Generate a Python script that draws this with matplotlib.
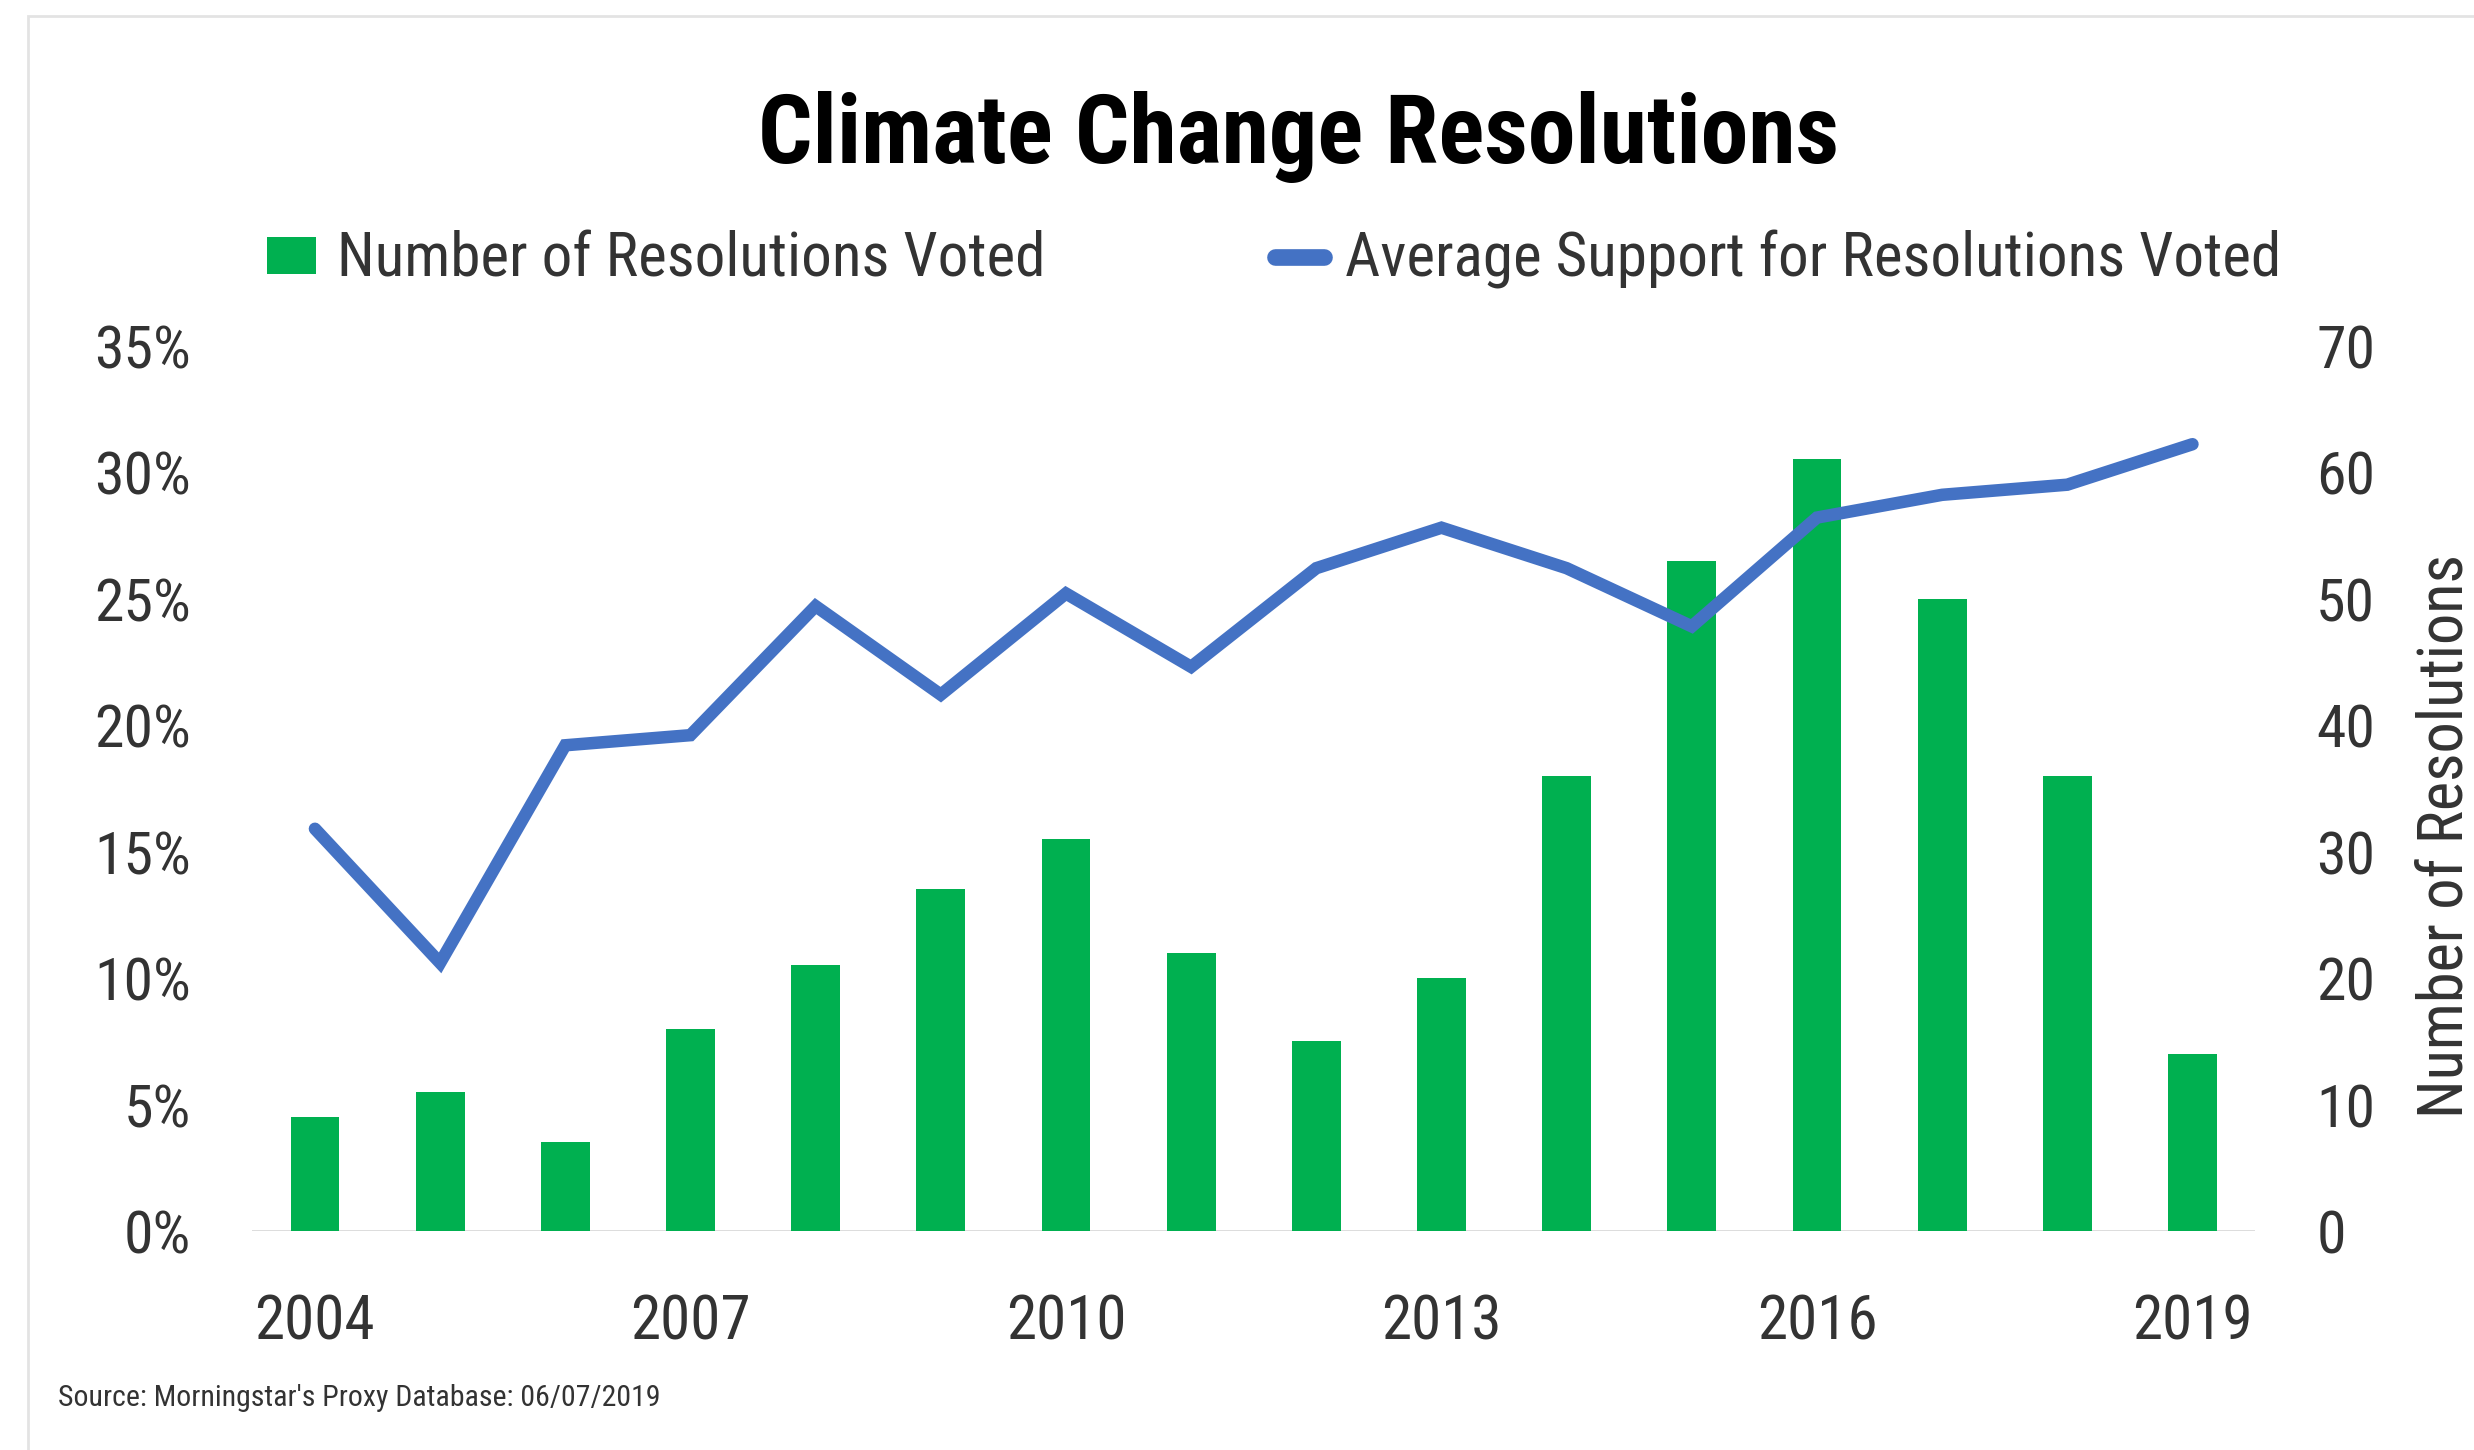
import matplotlib
matplotlib.use("Agg")
import matplotlib.pyplot as plt
from matplotlib import font_manager
from matplotlib.ticker import FuncFormatter, MultipleLocator
from matplotlib.patches import Patch, Rectangle
from matplotlib.lines import Line2D

# --- data ---
years = list(range(2004, 2020))
resolutions = [9, 11, 7, 16, 21, 27, 31, 22, 15, 20, 36, 53, 61, 50, 36, 14]
support = [15.9, 10.6, 19.2, 19.6, 24.7, 21.2, 25.2, 22.3,
           26.2, 27.8, 26.2, 23.9, 28.2, 29.1, 29.5, 31.1]
year_labels = [2004, 2007, 2010, 2013, 2016, 2019]

GREEN = "#00b050"
BLUE = "#4472c4"

# pick a narrow font if one is installed
installed = {f.name for f in font_manager.fontManager.ttflist}
narrow = "DejaVu Sans"
for cand in ["Roboto Condensed", "Liberation Sans Narrow", "Open Sans Condensed", "Roboto"]:
    if cand in installed:
        narrow = cand
        break
plt.rcParams["font.family"] = [narrow, "DejaVu Sans"]

fig = plt.figure(figsize=(24.74, 14.5), dpi=100)

# light card border like the screenshot
fig.patches.append(Rectangle((28 / 2474, -0.05), 1.2, 1 - 16 / 1450 + 0.05,
                             transform=fig.transFigure, fill=False,
                             edgecolor="#e3e3e3", linewidth=2))

ax = fig.add_axes([0.102, 0.151, 0.8095, 0.6107])
x = list(range(len(years)))

# bars -> count axis (shown on the right)
ax.bar(x, resolutions, width=0.39, color=GREEN, zorder=2)
ax.set_ylim(0, 70)
ax.set_xlim(-0.5, len(years) - 0.5)

# line -> percentage axis (shown on the left)
ax2 = ax.twinx()
ax2.plot(x, support, color=BLUE, linewidth=9, solid_capstyle="round",
         solid_joinstyle="miter")
ax2.set_ylim(0, 35)
ax2.yaxis.tick_left()
ax2.yaxis.set_major_locator(MultipleLocator(5))
ax2.yaxis.set_major_formatter(FuncFormatter(lambda v, p: f"{v:.0f}%"))

# twinx moved the count ticks left, put them back on the right
ax.yaxis.tick_right()
ax.yaxis.set_major_locator(MultipleLocator(10))
ax.set_ylabel("Number of Resolutions", fontsize=45, color="#333333", rotation=90)
ax.yaxis.set_label_coords(1.11, 0.446)

ax.set_xticks([years.index(y) for y in year_labels])
ax.set_xticklabels([str(y) for y in year_labels])

for a in (ax, ax2):
    for s in a.spines.values():
        s.set_visible(False)
    a.tick_params(length=0, labelsize=43, labelcolor="#333333")
ax.tick_params(axis="x", pad=45, labelsize=44)
ax.tick_params(axis="y", pad=44)
ax2.tick_params(axis="y", pad=44)
ax.axhline(0, color="#d9d9d9", linewidth=2, zorder=1)

fig.text(0.5248, 0.9055, "Climate Change Resolutions", ha="center", va="center",
         fontsize=69, fontweight="bold", color="black")

handles = [Patch(facecolor=GREEN, edgecolor="none"),
           Line2D([0], [0], color=BLUE, linewidth=12, solid_capstyle="round")]
fig.legend(handles, ["Number of Resolutions Voted", "Average Support for Resolutions Voted"],
           loc="center", bbox_to_anchor=(0.515, 0.8207), ncol=2, frameon=False,
           fontsize=44, handlelength=0.8, handleheight=0.55, handletextpad=0.35,
           columnspacing=3.75, labelcolor="#333333")

fig.text(37 * 1.578 / 2474, 1 - 886 * 1.578 / 1450,
         "Source: Morningstar's Proxy Database: 06/07/2019",
         ha="left", va="center", fontsize=21.5, color="#333333")

fig.savefig("out.png", dpi=100, facecolor="white")
